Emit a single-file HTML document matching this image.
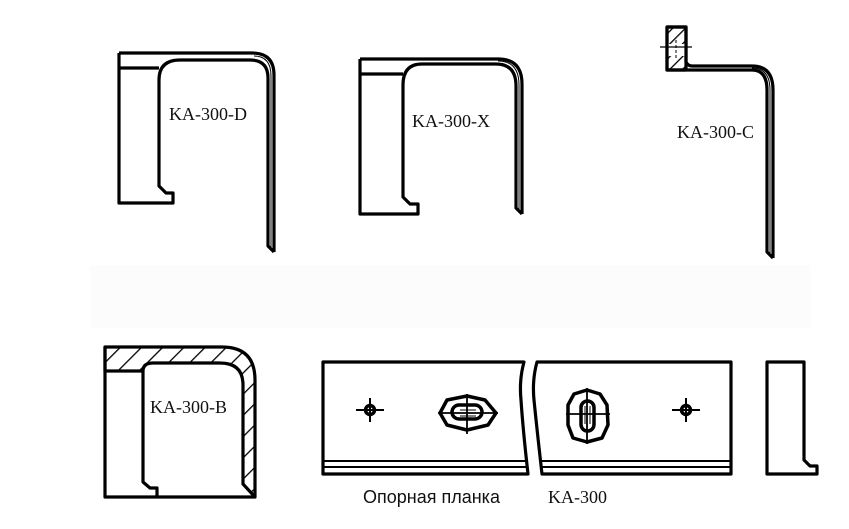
<!DOCTYPE html>
<html><head><meta charset="utf-8"><style>
html,body{margin:0;padding:0;background:#fff;}
svg{display:block;}
.s{font-family:"Liberation Serif",serif;font-size:18px;fill:#111;}
</style></head><body>
<svg width="849" height="529" viewBox="0 0 849 529" xmlns="http://www.w3.org/2000/svg">
<defs>
<pattern id="h" width="15" height="15" patternUnits="userSpaceOnUse" patternTransform="rotate(45)">
<rect width="15" height="15" fill="#fff"/><line x1="0" y1="0" x2="0" y2="15" stroke="#000" stroke-width="2.6"/>
</pattern>
<pattern id="h2" width="9" height="9" patternUnits="userSpaceOnUse" patternTransform="rotate(45)">
<rect width="9" height="9" fill="#fff"/><line x1="0" y1="0" x2="0" y2="9" stroke="#000" stroke-width="2.6"/>
</pattern>
</defs>
<rect x="90" y="265" width="720" height="63" fill="#fdfcfd"/>
<g fill="none" stroke="#000" stroke-width="3.2" stroke-linejoin="round">
<!-- KA-300-D -->
<path d="M119 53 H252 Q274 53 274 75 V252"/>
<path d="M119 53 V203 H173 V193 H166 L159 186 V80 Q159 60 180 60 H250 Q268 60 268 78 V246 L274 252"/>
<path d="M119 68 H159"/>
<path d="M254 56 Q271 56 271 76 V248" stroke-width="1"/>
<!-- KA-300-X -->
<path d="M360 59 H498 Q522 59 522 84 V214"/>
<path d="M360 59 V214 H418 V204 H410 L403 197 V85 Q403 64 422 64 H496 Q516 64 516 86 V208 L522 214"/>
<path d="M360 74 H403"/>
<path d="M498 61 Q519 61 519 85 V210" stroke-width="1"/>
<!-- KA-300-C -->
<rect x="667" y="27" width="19" height="43" fill="url(#h2)"/>
<rect x="668" y="44" width="17" height="12" fill="#fff" stroke="none"/>
<path d="M667 27 H686 V62 Q688 66 692 66 H752 Q773 66 773 90 V258"/>
<path d="M667 27 V70 H752 Q767 70 767 90 V252 L773 258"/>
<path d="M660 47 H692" stroke-width="1.2"/>
<path d="M676 40 V58" stroke-width="1" stroke-dasharray="3 2"/>
<path d="M752 68 Q770 68 770 90 V254" stroke-width="1"/>
<!-- KA-300-B -->
<path d="M105 347 H222 Q255 347 255 380 V497 L243 484 V385 Q243 363 220 363 H153 Q143 363 143 371 H105 Z" fill="url(#h)"/>
<path d="M105 347 V497 H255"/>
<path d="M143 371 V482 L150 488 H157 V497"/>
<!-- plates -->
<path d="M323 362 V474 H528 Q523 430 521 400 Q519 380 524 362 Z"/>
<path d="M323 461 H527 M323 467 H527" stroke-width="2"/>
<path d="M537 362 Q532 380 534 400 Q537 430 542 474 H731 V362 Z"/>
<path d="M541 461 H731 M541 467 H731" stroke-width="2"/>
<path d="M767 362 V474 H817 V466 H810 L804 460 V362 Z"/>
<!-- small holes -->
<circle cx="370" cy="410" r="4.5" stroke-width="3.5"/>
<path d="M356 410 H384 M370 398 V422" stroke-width="2"/>
<circle cx="686" cy="410" r="4.5" stroke-width="3.5"/>
<path d="M672 410 H700 M686 398 V422" stroke-width="2"/>
<!-- slot horizontal -->
<path d="M440 413 L447 400 L467 396 L485 400 L496 413 L488 425 L467 430 L447 425 Z" stroke-width="3.5"/>
<rect x="452" y="405" width="30" height="14" rx="7" stroke-width="3.5"/>
<path d="M438 413 H498 M467 394 V434" stroke-width="1.8"/>
<path d="M460 410 H476 M460 416 H476" stroke-width="1"/>
<!-- slot vertical -->
<path d="M587 390 L600 394 L607 405 L608 425 L602 438 L587 442 L573 438 L568 425 L568 405 L574 394 Z" stroke-width="3.5"/>
<rect x="581" y="401" width="13" height="30" rx="6.5" stroke-width="3.5"/>
<path d="M566 414 H610 M587 388 V444" stroke-width="1.8"/>
<path d="M585 406 V424 M590 406 V424" stroke-width="1"/>
</g>
<text class="s" x="169" y="120">KA-300-D</text>
<text class="s" x="412" y="127">KA-300-X</text>
<text class="s" x="677" y="138">KA-300-C</text>
<text class="s" x="150" y="413">KA-300-B</text>
<text x="363" y="503" style="font-family:'Liberation Sans','Noto Sans CJK SC',sans-serif;font-size:18px;fill:#111">Опорная планка</text>
<text class="s" x="548" y="503">KA-300</text>
</svg>
</body></html>
